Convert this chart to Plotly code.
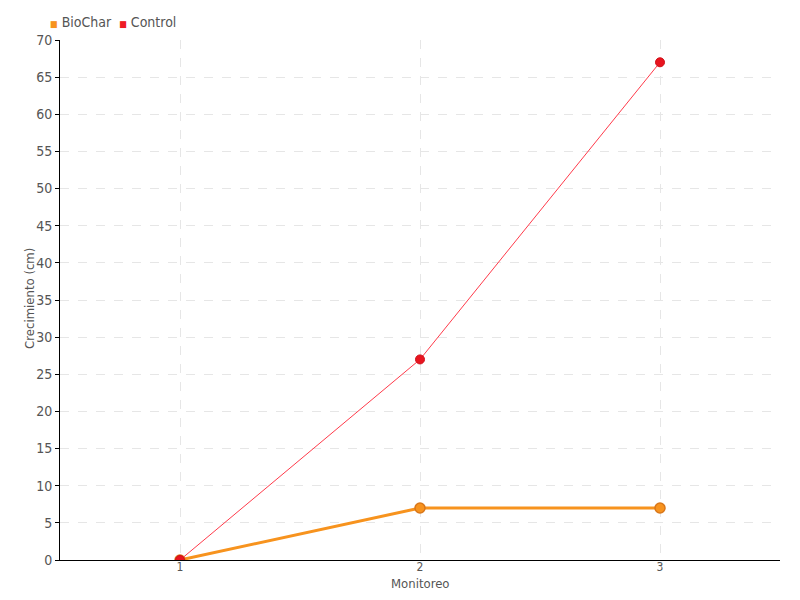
import plotly.graph_objects as go

monitoreo = [1, 2, 3]
biochar = [0, 7, 7]
control = [0, 27, 67]
y_ticks = list(range(0, 75, 5))
series_names = ["BioChar", "Control"]
series_colors = ["#f7931e", "#ee1c25"]
x_title = "Monitoreo"
y_title = "Crecimiento (cm)"

FONT = "DejaVu Sans Condensed, Liberation Sans Narrow, sans-serif"

fig = go.Figure()
fig.add_trace(go.Scatter(
    x=monitoreo, y=biochar, name=series_names[0], mode="lines+markers",
    line=dict(color="#f7931e", width=3),
    marker=dict(color="#f7931e", size=10, line=dict(color="#d9771a", width=1.5)),
))
fig.add_trace(go.Scatter(
    x=monitoreo, y=control, name=series_names[1], mode="lines+markers",
    line=dict(color="#ff3a4a", width=1),
    marker=dict(color="#e8141f", size=9, line=dict(color="#d01018", width=1)),
))

legend_text = "  ".join(
    f'<span style="color:{c};font-size:9px">■</span> {n}'
    for n, c in zip(series_names, series_colors)
)
fig.add_annotation(
    text=legend_text, xref="paper", yref="paper", x=-0.016, y=1.035,
    xanchor="left", yanchor="middle", showarrow=False,
    font=dict(size=14, color="#555555"),
)
fig.add_annotation(
    text=y_title, xref="paper", yref="paper", x=-0.0417, y=0.504,
    xanchor="center", yanchor="middle", textangle=-90, showarrow=False,
    font=dict(size=13, color="#555555"),
)
fig.add_annotation(
    text=x_title, xref="paper", yref="paper", x=0.5, y=-0.046,
    xanchor="center", yanchor="middle", showarrow=False,
    font=dict(size=13, color="#555555"),
)

# page body has an 8px margin -> figure shifted by 8px
fig.update_layout(
    width=792, height=592,
    margin=dict(l=52, r=20, t=32, b=40, autoexpand=False),
    plot_bgcolor="white", paper_bgcolor="white",
    font=dict(family=FONT, size=14, color="#555555"),
    showlegend=False,
)
fig.update_xaxes(
    range=[0.5, 3.5], tickvals=monitoreo, ticktext=[str(v) for v in monitoreo],
    showline=True, linecolor="black", linewidth=1, automargin=False,
    showgrid=True, gridcolor="#e6e6e6", griddash="dash", gridwidth=1,
    ticks="", ticklabelstandoff=-4,
    tickfont=dict(size=12), zeroline=False,
)
fig.update_yaxes(
    range=[0, 70], tickvals=y_ticks, automargin=False,
    showline=True, linecolor="black", linewidth=1,
    showgrid=True, gridcolor="#e6e6e6", griddash="dash", gridwidth=1,
    ticks="outside", ticklen=4, tickcolor="black",
    tickfont=dict(size=14), zeroline=False,
)

fig.write_html("out.html")
